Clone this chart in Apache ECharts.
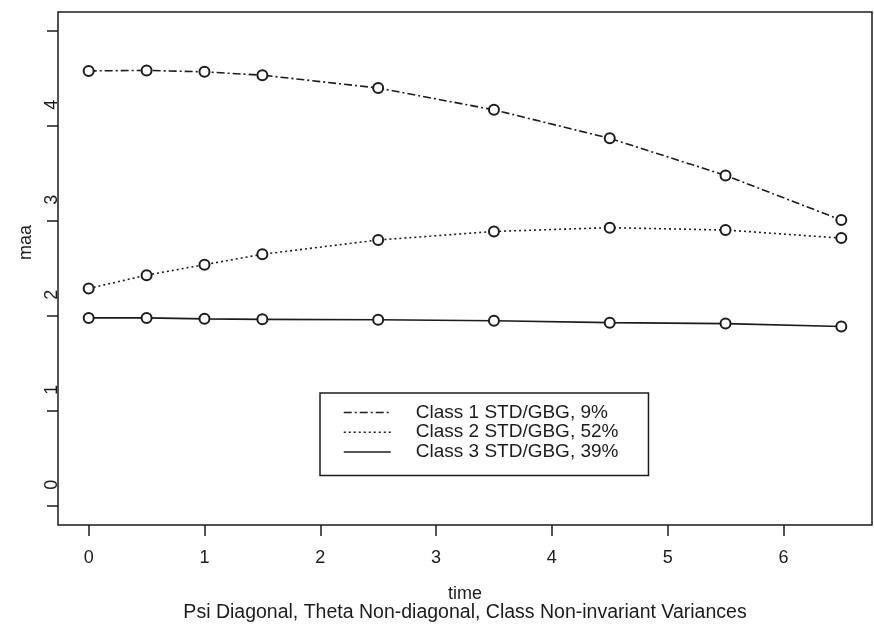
<!DOCTYPE html>
<html>
<head>
<meta charset="utf-8">
<script src="https://cdn.jsdelivr.net/npm/echarts@6/dist/echarts.min.js"></script>
<style>
  html, body { margin: 0; padding: 0; background: #ffffff; }
  #chart { width: 874px; height: 625px; }
</style>
</head>
<body>
<div id="chart"></div>
<script>
// Mean trajectories of maa over time for the three latent classes
const timePoints = [0, 0.5, 1, 1.5, 2.5, 3.5, 4.5, 5.5, 6.5];
const class1 = [4.58, 4.585, 4.57, 4.535, 4.40, 4.17, 3.87, 3.48, 3.01];
const class2 = [2.29, 2.43, 2.54, 2.65, 2.80, 2.89, 2.93, 2.905, 2.82];
const class3 = [1.98, 1.98, 1.97, 1.965, 1.96, 1.95, 1.93, 1.92, 1.89];
const seriesNames = ['Class 1 STD/GBG, 9%', 'Class 2 STD/GBG, 52%', 'Class 3 STD/GBG, 39%'];
const xTicks = [0, 1, 2, 3, 4, 5, 6];
const yTicks = [0, 1, 2, 3, 4, 5];
const yLabels = [0, 1, 2, 3, 4];
const xTitle = 'time';
const yTitle = 'maa';
const subtitle = 'Psi Diagonal, Theta Non-diagonal, Class Non-invariant Variances';

const FONT = '"Liberation Sans", Arial, Helvetica, sans-serif';
const INK = '#1c1c1c';
const X_MIN = -0.265, X_MAX = 6.765;
const Y_MIN = -0.2, Y_MAX = 5.2;
const LABEL_SHIFT = 0.225; // tick labels sit a little above their tick marks

const pair = (ys) => timePoints.map((t, i) => [t, ys[i]]);
const dashPatterns = [[8, 3, 2, 3], [2, 3], 'solid'];
const values = [class1, class2, class3];

const chart = echarts.init(document.getElementById('chart'), null, { renderer: 'canvas' });

chart.setOption({
  animation: false,
  backgroundColor: '#ffffff',
  textStyle: { fontFamily: FONT },
  title: {
    text: subtitle,
    left: 465,
    top: 603,
    padding: 0,
    textAlign: 'center',
    textStyle: { fontFamily: FONT, fontSize: 19.5, fontWeight: 'normal', color: INK }
  },
  grid: {
    left: 58, right: 2, top: 12, bottom: 100,
    show: true, borderColor: INK, borderWidth: 1.5, backgroundColor: 'transparent'
  },
  legend: {
    orient: 'vertical',
    left: 320,
    top: 393,
    padding: [10, 30, 14, 23],
    itemGap: 0.7,
    itemWidth: 47,
    itemHeight: 14,
    borderColor: INK,
    borderWidth: 1.5,
    borderRadius: 0,
    backgroundColor: '#ffffff',
    selectedMode: false,
    itemStyle: { opacity: 0 },
    lineStyle: { width: 1.5 },
    textStyle: { fontFamily: FONT, fontSize: 19, color: INK, padding: [0, 0, 0, 20] },
    data: seriesNames
  },
  xAxis: {
    type: 'value',
    min: X_MIN, max: X_MAX,
    name: xTitle,
    nameLocation: 'middle',
    nameGap: 60,
    nameTextStyle: { fontFamily: FONT, fontSize: 18, color: INK },
    axisLine: { show: false, onZero: false },
    axisTick: { show: true, length: 11, customValues: xTicks, lineStyle: { color: INK, width: 1.5 } },
    axisLabel: { customValues: xTicks, margin: 24, fontFamily: FONT, fontSize: 18, color: INK },
    splitLine: { show: false }
  },
  yAxis: [
    {
      type: 'value',
      min: Y_MIN, max: Y_MAX,
      axisLine: { show: false, onZero: false },
      axisTick: { show: true, length: 11, customValues: yTicks, lineStyle: { color: INK, width: 1.5 } },
      axisLabel: { show: false },
      splitLine: { show: false }
    },
    {
      type: 'value',
      position: 'left',
      offset: 0,
      min: Y_MIN - LABEL_SHIFT, max: Y_MAX - LABEL_SHIFT,
      name: yTitle,
      nameLocation: 'middle',
      nameGap: 20,
      nameRotate: 90,
      nameTextStyle: { fontFamily: FONT, fontSize: 18, color: INK, padding: [0, 0, 0, 52] },
      axisLine: { show: false, onZero: false },
      axisTick: { show: false },
      axisLabel: { customValues: yLabels, rotate: 90, margin: -3, fontFamily: FONT, fontSize: 18, color: INK },
      splitLine: { show: false }
    }
  ],
  series: values.map((ys, i) => ({
    name: seriesNames[i],
    type: 'line',
    yAxisIndex: 0,
    data: pair(ys),
    symbol: 'circle',
    symbolSize: 10,
    z: 3 - i,
    itemStyle: { color: '#ffffff', borderColor: INK, borderWidth: 2 },
    lineStyle: { color: INK, width: 1.6, type: dashPatterns[i] },
    emphasis: { disabled: true }
  }))
});
</script>
</body>
</html>
